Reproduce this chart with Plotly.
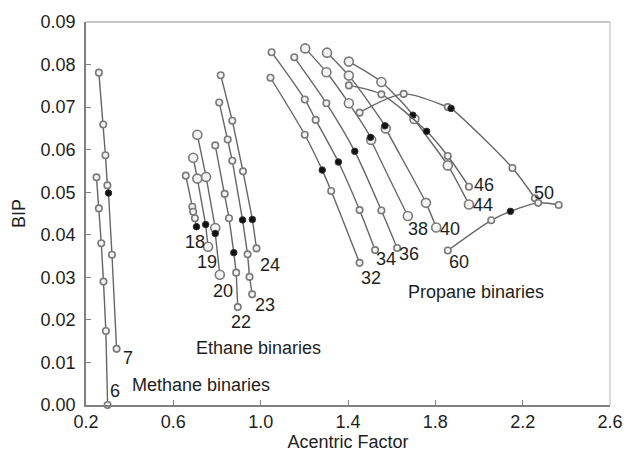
import plotly.graph_objects as go

# ---- Methane binaries ----
M6_X = [0.248, 0.259, 0.270, 0.280, 0.291, 0.299]
M6_Y = [0.0535, 0.0462, 0.0380, 0.0290, 0.0174, 0.0000]
M7_X = [0.259, 0.279, 0.289, 0.298, 0.303, 0.319, 0.340]
M7_Y = [0.0781, 0.0659, 0.0587, 0.0516, 0.0498, 0.0353, 0.0132]

# ---- Ethane binaries ----
E18_X = [0.657, 0.687, 0.691, 0.699, 0.706]
E18_Y = [0.0539, 0.0466, 0.0454, 0.0439, 0.0419]
E19_X = [0.691, 0.710, 0.748, 0.759]
E19_Y = [0.0581, 0.0532, 0.0424, 0.0372]
E20_X = [0.710, 0.750, 0.792, 0.792, 0.813]
E20_Y = [0.0635, 0.0536, 0.0416, 0.0403, 0.0306]
E22_X = [0.792, 0.835, 0.855, 0.877, 0.888, 0.895]
E22_Y = [0.0610, 0.0496, 0.0439, 0.0358, 0.0311, 0.0230]
E23_X = [0.810, 0.849, 0.870, 0.917, 0.940, 0.949, 0.961]
E23_Y = [0.0711, 0.0624, 0.0574, 0.0435, 0.0354, 0.0301, 0.0260]
E24_X = [0.817, 0.870, 0.919, 0.962, 0.981]
E24_Y = [0.0775, 0.0668, 0.0549, 0.0436, 0.0368]

# ---- Propane binaries ----
P32_X = [1.045, 1.202, 1.282, 1.323, 1.453]
P32_Y = [0.0769, 0.0635, 0.0552, 0.0503, 0.0334]
P34_X = [1.050, 1.202, 1.252, 1.356, 1.453, 1.524]
P34_Y = [0.0829, 0.0718, 0.0670, 0.0571, 0.0458, 0.0364]
P36_X = [1.154, 1.301, 1.431, 1.553, 1.625]
P36_Y = [0.0817, 0.0709, 0.0596, 0.0457, 0.0369]
P38_X = [1.204, 1.301, 1.404, 1.503, 1.506, 1.674]
P38_Y = [0.0838, 0.0782, 0.0709, 0.0629, 0.0623, 0.0444]
P40_X = [1.304, 1.404, 1.569, 1.573, 1.757, 1.804]
P40_Y = [0.0828, 0.0774, 0.0656, 0.0650, 0.0475, 0.0417]
P44_X = [1.404, 1.553, 1.697, 1.704, 1.857, 1.954]
P44_Y = [0.0807, 0.0759, 0.0681, 0.0672, 0.0563, 0.0471]
P46_X = [1.404, 1.553, 1.760, 1.857, 1.954]
P46_Y = [0.0751, 0.0730, 0.0643, 0.0585, 0.0513]
P50_X = [1.453, 1.655, 1.857, 1.872, 2.153, 2.256]
P50_Y = [0.0687, 0.0731, 0.0700, 0.0697, 0.0557, 0.0486]
P60_X = [1.857, 2.056, 2.144, 2.271, 2.365]
P60_Y = [0.0363, 0.0434, 0.0455, 0.0475, 0.0470]

# index of the solid (black) point on each curve
SOLID_POINT = {"6": None, "7": 4, "18": 4, "19": 2, "20": 3, "22": 3, "23": 3,
               "24": 3, "32": 2, "34": 3, "36": 2, "38": 3, "40": 2, "44": 2,
               "46": 2, "50": 3, "60": 2}

# curve labels and their positions
LABELS = ["6", "7", "18", "19", "20", "22", "23", "24",
          "32", "34", "36", "38", "40", "44", "46", "50", "60"]
LABEL_X = [0.332, 0.392, 0.701, 0.754, 0.829, 0.911, 1.020, 1.042,
           1.506, 1.573, 1.678, 1.722, 1.865, 2.018, 2.022, 2.298, 1.909]
LABEL_Y = [0.0034, 0.0111, 0.0382, 0.0335, 0.0268, 0.0196, 0.0235, 0.0329,
           0.0298, 0.0343, 0.0355, 0.0414, 0.0414, 0.0471, 0.0517, 0.0499, 0.0337]

GROUP_NAMES = ["Methane binaries", "Ethane binaries", "Propane binaries"]
GROUP_X = [0.725, 0.992, 1.984]
GROUP_Y = [0.0046, 0.0134, 0.0266]

X_TICKS = [0.2, 0.6, 1.0, 1.4, 1.8, 2.2, 2.6]
Y_TICKS = [0.00, 0.01, 0.02, 0.03, 0.04, 0.05, 0.06, 0.07, 0.08, 0.09]

curves = [
    ("6", M6_X, M6_Y), ("7", M7_X, M7_Y),
    ("18", E18_X, E18_Y), ("19", E19_X, E19_Y), ("20", E20_X, E20_Y),
    ("22", E22_X, E22_Y), ("23", E23_X, E23_Y), ("24", E24_X, E24_Y),
    ("32", P32_X, P32_Y), ("34", P34_X, P34_Y), ("36", P36_X, P36_Y),
    ("38", P38_X, P38_Y), ("40", P40_X, P40_Y), ("44", P44_X, P44_Y),
    ("46", P46_X, P46_Y), ("50", P50_X, P50_Y), ("60", P60_X, P60_Y),
]

# drawing style
LINE_COLOR = "#666666"
EDGE_COLOR = "#7a7a7a"
TEXT_COLOR = "#1e1e1e"
FONT = "Liberation Sans, Arial, sans-serif"
big_markers = {"19", "20", "38", "40", "44"}
smooth_curves = {"32", "34", "36", "38", "40", "44", "46", "50", "60"}

fig = go.Figure()
for name, xs, ys in curves:
    solid = SOLID_POINT[name]
    open_idx = [i for i in range(len(xs)) if i != solid]
    fig.add_trace(go.Scatter(
        x=xs, y=ys, mode="lines",
        line=dict(color=LINE_COLOR, width=1.4,
                  shape="spline" if name in smooth_curves else "linear",
                  smoothing=0.8),
        hoverinfo="skip", showlegend=False, cliponaxis=False))
    fig.add_trace(go.Scatter(
        x=[xs[i] for i in open_idx], y=[ys[i] for i in open_idx],
        mode="markers",
        marker=dict(symbol="circle", size=9 if name in big_markers else 6.5,
                    color="#f4f4f4", line=dict(color=EDGE_COLOR, width=1.6)),
        showlegend=False, cliponaxis=False, name=name))
    if solid is not None:
        fig.add_trace(go.Scatter(
            x=[xs[solid]], y=[ys[solid]], mode="markers",
            marker=dict(symbol="circle", size=6.5, color="#111111",
                        line=dict(color="#333333", width=1)),
            showlegend=False, cliponaxis=False, name=name))

for txt, lx, ly in zip(LABELS, LABEL_X, LABEL_Y):
    fig.add_annotation(x=lx, y=ly, text=txt, showarrow=False,
                       xanchor="center", yanchor="middle",
                       font=dict(family=FONT, size=18, color=TEXT_COLOR))
for txt, lx, ly in zip(GROUP_NAMES, GROUP_X, GROUP_Y):
    fig.add_annotation(x=lx, y=ly, text=txt, showarrow=False,
                       xanchor="center", yanchor="middle",
                       font=dict(family=FONT, size=18, color=TEXT_COLOR))

# light frame on the top and right sides
fig.add_shape(type="line", xref="paper", yref="paper", x0=0, x1=1, y0=1, y1=1,
              line=dict(color="#b4b4b4", width=1.5))
fig.add_shape(type="line", xref="paper", yref="paper", x0=1, x1=1, y0=0, y1=1,
              line=dict(color="#c4c4c4", width=1.2))

fig.update_layout(
    width=635, height=460,
    margin=dict(l=86, r=14, t=16, b=55),
    paper_bgcolor="white", plot_bgcolor="white",
    font=dict(family=FONT, size=18, color=TEXT_COLOR),
    xaxis=dict(range=[0.2, 2.6], tickvals=X_TICKS, tickformat=".1f",
               ticks="inside", ticklen=5, tickwidth=1.2, tickcolor="#808080",
               showline=True, linecolor="#808080", linewidth=1.6,
               showgrid=False, zeroline=False,
               title=dict(text="Acentric Factor", standoff=2,
                          font=dict(size=18))),
    yaxis=dict(range=[0, 0.09], tickvals=Y_TICKS, tickformat=".2f",
               ticks="inside", ticklen=5, tickwidth=1.2, tickcolor="#808080",
               ticklabelstandoff=5,
               showline=True, linecolor="#808080", linewidth=1.6,
               showgrid=False, zeroline=False,
               title=dict(text="BIP", standoff=10, font=dict(size=18))),
)

fig.write_html("out.html")
